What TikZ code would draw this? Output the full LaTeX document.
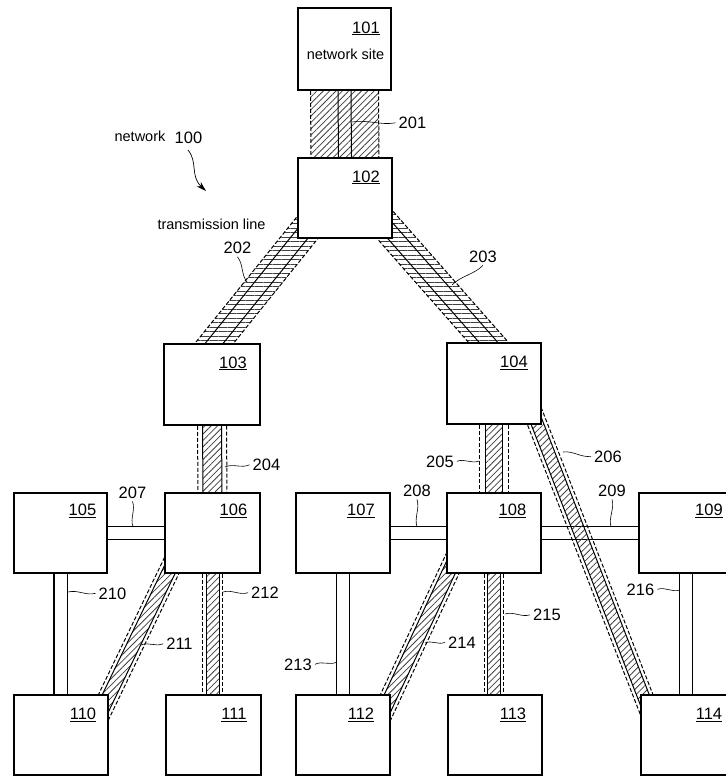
\documentclass[tikz,border=0pt]{standalone}
\usepackage{fontspec}
\setmainfont{Liberation Sans}
\usetikzlibrary{calc,patterns.meta,arrows.meta}
\pgfdeclarelayer{bg}
\pgfsetlayers{bg,main}
% band: #1 start, #2 end, #3 half width, #4 inner line offset, #5 hatch angle, #6 hatch half width
\newcommand\tband[6]{%
  \path[pattern={Lines[angle=#5,distance=4.5pt,line width=0.8pt]},pattern color=black!75]
    ($(#1)!#6!90:(#2)$) -- ($(#2)!#6!-90:(#1)$) -- ($(#2)!#6!90:(#1)$) -- ($(#1)!#6!-90:(#2)$) -- cycle;
  \draw[bandedge] ($(#1)!#3!90:(#2)$) -- ($(#2)!#3!-90:(#1)$);
  \draw[bandedge] ($(#1)!#3!-90:(#2)$) -- ($(#2)!#3!90:(#1)$);
  \draw[bandline] ($(#1)!#4!90:(#2)$) -- ($(#2)!#4!-90:(#1)$);
  \draw[bandline] ($(#1)!#4!-90:(#2)$) -- ($(#2)!#4!90:(#1)$);
}
\newcommand\leader[2]{%
  \draw[leaderline] (#1) .. controls ($($(#1)!0.35!(#2)$)!3pt!90:(#2)$) and ($($(#1)!0.65!(#2)$)!3pt!-90:(#2)$) .. (#2);
}
\begin{document}
\begin{tikzpicture}[x=1pt,y=-1pt,
  box/.style={draw,fill=white,line width=1.3pt,minimum width=94pt,minimum height=80pt,inner sep=0pt},
  num/.style={font=\fontsize{16.5}{18}\selectfont,inner sep=0pt,anchor=base},
  word/.style={font=\fontsize{14.5}{17}\selectfont,inner sep=0pt},
  bandedge/.style={line width=1pt,dash pattern=on 4pt off 2pt},
  bandline/.style={line width=1pt},
  dline/.style={line width=1.2pt,double distance=12pt},
  leaderline/.style={line width=0.6pt}]
\clip (0,0) rectangle (726,777);
% boxes
\node[box,minimum width=93pt,minimum height=82pt] (n101) at (344.5,49) {};
\node[box] (n102) at (345,198) {};
\node[box,minimum width=96pt,minimum height=81pt] (n103) at (212,384.5) {};
\node[box,minimum height=81pt] (n104) at (494,383.5) {};
\node[box,minimum width=93pt] (n105) at (60.5,533) {};
\node[box,minimum width=95pt] (n106) at (212.5,533) {};
\node[box] (n107) at (343,533) {};
\node[box] (n108) at (494,533) {};
\node[box] (n109) at (686,533) {};
\node[box] (n110) at (61,735) {};
\node[box,minimum width=95pt] (n111) at (213.5,735) {};
\node[box] (n112) at (343,735) {};
\node[box] (n113) at (495,735) {};
\node[box] (n114) at (688,735) {};
% box labels
\node[num] (t101) at (366,33) {\underline{101}};
\node[word] (ns) at (345.5,54) {network site};
\node[num] (t102) at (366,182) {\underline{102}};
\node[num] (t103) at (233,368) {\underline{103}};
\node[num] (t104) at (514,367.5) {\underline{104}};
\node[num] (t105) at (82.5,515.5) {\underline{105}};
\node[num] (t106) at (233.5,515.5) {\underline{106}};
\node[num] (t107) at (361,515.5) {\underline{107}};
\node[num] (t108) at (512.5,515.5) {\underline{108}};
\node[num] (t109) at (709,515.5) {\underline{109}};
\node[num] (t110) at (83,719.5) {\underline{110}};
\node[num] (t111) at (234,719.5) {\underline{111}};
\node[num] (t112) at (361,719.5) {\underline{112}};
\node[num] (t113) at (513,719.5) {\underline{113}};
\node[num] (t114) at (709,719.5) {\underline{114}};
% other texts
\node[word] (nw) at (140,136) {network};
\node[num] (l100) at (188.5,143) {100};
\node[word] (tl) at (211.5,224) {transmission line};
% line labels
\node[num] (l201) at (412.5,128.5) {201};
\node[num] (l202) at (237.5,253.5) {202};
\node[num] (l203) at (483,262) {203};
\node[num] (l204) at (266.5,470.5) {204};
\node[num] (l205) at (440,467) {205};
\node[num] (l206) at (608,462) {206};
\node[num] (l207) at (132.5,498) {207};
\node[num] (l208) at (417,496) {208};
\node[num] (l209) at (612,496) {209};
\node[num] (l210) at (112.5,599) {210};
\node[num] (l211) at (179.5,649.5) {211};
\node[num] (l212) at (265,598.5) {212};
\node[num] (l213) at (298,670) {213};
\node[num] (l214) at (462,648) {214};
\node[num] (l215) at (547,620.5) {215};
\node[num] (l216) at (640.5,595) {216};
% band end points
\coordinate (s202a) at (204,356);
\coordinate (s202b) at (312,222);
\coordinate (s203a) at (499.6,355);
\coordinate (s203b) at (373.7,212);
\coordinate (s206a) at (530,405);
\coordinate (s206b) at (653.4,721.9);
\coordinate (s211a) at (176.3,556);
\coordinate (s211b) at (96,722.7);
\coordinate (s214a) at (456.2,556);
\coordinate (s214b) at (377.9,723.6);
\begin{pgfonlayer}{bg}
  % double-line connectors
  \draw[dline] (n105.east) -- (n106.west);
  \draw[dline] (n107.east) -- (n108.west);
  \draw[dline] (n108.east) -- (n109.west);
  \draw[dline] (n105.south) -- (n105.south |- n110.north);
  \draw[dline] (n107.south) -- (n107.south |- n112.north);
  \draw[dline] (n109.south) -- (n109.south |- n114.north);
  % hatched transmission lines
  \tband{n101.south}{n102.north}{34pt}{6.5pt}{45}{34pt}
  \tband{s202a}{s202b}{15pt}{7pt}{0}{15pt}
  \tband{s203a}{s203b}{15pt}{7pt}{0}{15pt}
  \tband{n103.south}{n106.north}{14.5pt}{9.5pt}{45}{9.5pt}
  \tband{n104.south}{n108.north}{14.5pt}{8.5pt}{45}{8.5pt}
  \tband{s206a}{s206b}{9.5pt}{6pt}{45}{6pt}
  \tband{s211a}{s211b}{10pt}{6.5pt}{45}{6.5pt}
  \tband{n106.south}{n106.south |- n111.north}{10pt}{6.5pt}{45}{6.5pt}
  \tband{s214a}{s214b}{10pt}{6.5pt}{45}{6.5pt}
  \tband{n108.south}{n108.south |- n113.north}{9.5pt}{6.5pt}{45}{6.5pt}
\end{pgfonlayer}
% leader anchors
\coordinate (c201) at (352,122);
\coordinate (c202) at (247,282);
\coordinate (c203) at (452,285);
\coordinate (c204) at (225,467);
\coordinate (c205) at (479,461);
\coordinate (c206) at (563,452);
\coordinate (c207) at (133,527);
\coordinate (c208) at (417,527);
\coordinate (c209) at (611,527);
\coordinate (c210) at (68,592);
\coordinate (c211) at (141,645);
\coordinate (c212) at (223,592);
\coordinate (c213) at (337,662);
\coordinate (c214) at (425,643);
\coordinate (c215) at (505,614);
\coordinate (c216) at (680,590);
\leader{c201}{[xshift=-3pt]l201.west}
\leader{[yshift=-3pt]l202.south}{c202}
\leader{[yshift=-3pt]l203.south}{c203}
\leader{c204}{[xshift=-3pt]l204.west}
\leader{[xshift=3pt]l205.east}{c205}
\leader{c206}{[xshift=-3pt]l206.west}
\leader{[yshift=-3pt]l207.south}{c207}
\leader{[yshift=-3pt]l208.south}{c208}
\leader{[yshift=-3pt]l209.south}{c209}
\leader{c210}{[xshift=-3pt]l210.west}
\leader{c211}{[xshift=-3pt]l211.west}
\leader{c212}{[xshift=-3pt]l212.west}
\leader{[xshift=3pt]l213.east}{c213}
\leader{c214}{[xshift=-3pt]l214.west}
\leader{c215}{[xshift=-3pt]l215.west}
\leader{[xshift=3pt]l216.east}{c216}
% network arrow
\coordinate (a100s) at (188,150);
\coordinate (a100e) at (206,191);
\draw[line width=0.7pt,-{Stealth[length=10pt,width=6pt]}] (a100s) .. controls (198,162) and (190,176) .. (a100e);
\end{tikzpicture}
\end{document}
